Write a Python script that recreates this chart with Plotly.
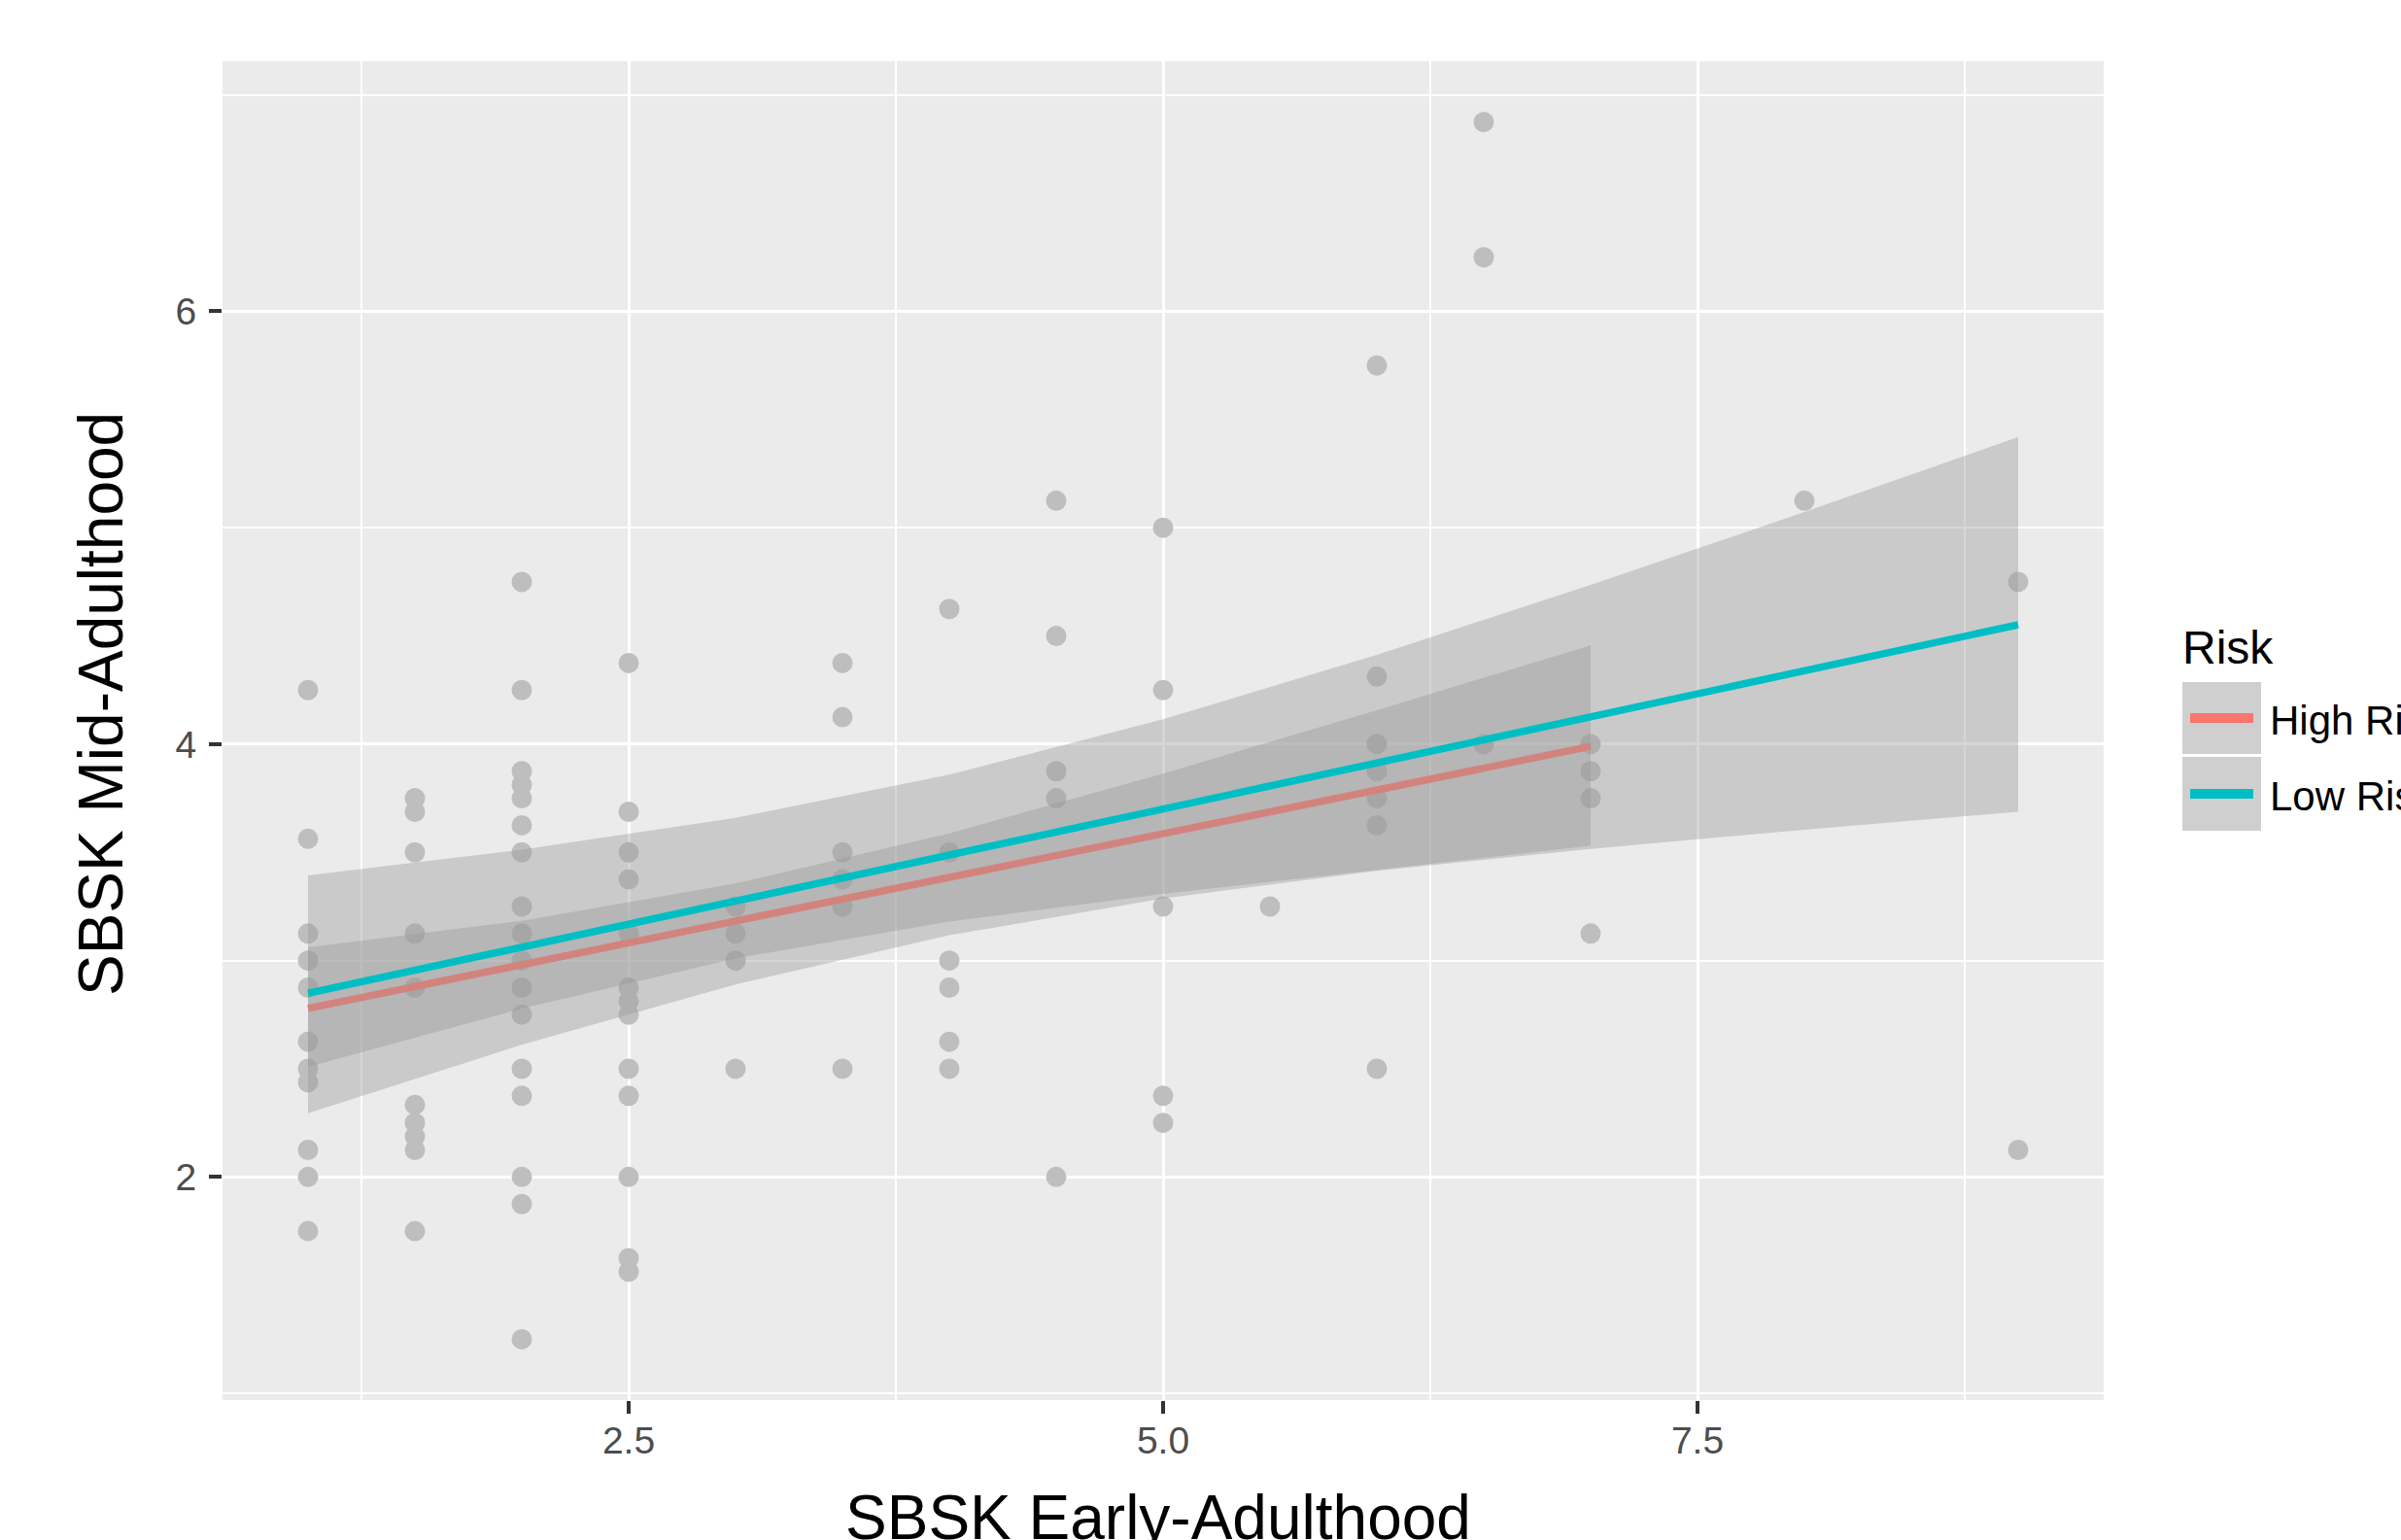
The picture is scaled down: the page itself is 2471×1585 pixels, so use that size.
import plotly.graph_objects as go

# ---------------- data ----------------
sbsk_early = (
    [1.0] * 11 + [1.5] * 10 + [2.0] * 17 + [2.5] * 13 + [3.0] * 4 + [3.5] * 6 +
    [4.0] * 6 + [4.5] * 5 + [5.0] * 5 + [5.5] * 1 + [6.0] * 7 + [6.5] * 3 +
    [7.0] * 4 + [8.0] * 1 + [9.0] * 2
)
sbsk_mid = (
    [4.25, 3.5625, 3.125, 3.0, 2.875, 2.625, 2.5, 2.4375, 2.125, 2.0, 1.75]
    + [3.75, 3.6875, 3.5, 3.125, 2.875, 2.333, 2.25, 2.1875, 2.125, 1.75]
    + [4.75, 4.25, 3.875, 3.8125, 3.75, 3.625, 3.5, 3.25, 3.125, 3.0, 2.875, 2.75, 2.5, 2.375, 2.0, 1.875, 1.25]
    + [4.375, 3.6875, 3.5, 3.375, 3.125, 2.875, 2.8125, 2.75, 2.5, 2.375, 2.0, 1.625, 1.5625]
    + [3.25, 3.125, 3.0, 2.5]
    + [4.375, 4.125, 3.5, 3.375, 3.25, 2.5]
    + [4.625, 3.5, 3.0, 2.875, 2.625, 2.5]
    + [5.125, 4.5, 3.875, 3.75, 2.0]
    + [5.0, 4.25, 3.25, 2.375, 2.25]
    + [3.25]
    + [5.75, 4.3125, 4.0, 3.875, 3.75, 3.625, 2.5]
    + [6.875, 6.25, 4.0]
    + [4.0, 3.875, 3.75, 3.125]
    + [5.125]
    + [4.75, 2.125]
)

# regression lines and confidence bands
high_x = [1, 2, 3, 4, 5, 6, 7]
high_fit = [2.779, 2.981, 3.183, 3.384, 3.586, 3.788, 3.990]
high_upper = [3.061, 3.184, 3.356, 3.588, 3.864, 4.157, 4.457]
high_lower = [2.509, 2.778, 3.010, 3.180, 3.308, 3.419, 3.530]

low_x = [1, 2, 3, 4, 5, 6, 7, 8, 9]
low_fit = [2.849, 3.062, 3.275, 3.488, 3.701, 3.914, 4.126, 4.339, 4.552]
low_upper = [3.393, 3.513, 3.660, 3.859, 4.115, 4.413, 4.736, 5.073, 5.419]
low_lower = [2.295, 2.611, 2.890, 3.117, 3.287, 3.415, 3.516, 3.605, 3.688]

group_names = ["High Risk", "Low Risk"]
group_colors = ["#F8766D", "#00BFC4"]
x_ticks = [2.5, 5.0, 7.5]
x_tick_text = ["2.5", "5.0", "7.5"]
y_ticks = [2, 4, 6]
y_tick_text = ["2", "4", "6"]

FONT = "Liberation Sans, Arial, Helvetica, sans-serif"
RIBBON = "rgba(153,153,153,0.4)"

fig = go.Figure()

# points
fig.add_trace(go.Scatter(
    x=sbsk_early, y=sbsk_mid, mode="markers",
    marker=dict(color="#BEBEBE", size=21, line=dict(width=0)),
    showlegend=False, hoverinfo="x+y"))

def ribbon(xs, up, lo):
    return list(xs) + list(xs)[::-1], list(up) + list(lo)[::-1]

# High risk ribbon + line
rx, ry = ribbon(high_x, high_upper, high_lower)
fig.add_trace(go.Scatter(x=rx, y=ry, fill="toself", fillcolor=RIBBON,
                         line=dict(width=0), mode="lines", showlegend=False,
                         hoverinfo="skip"))
fig.add_trace(go.Scatter(x=high_x, y=high_fit, mode="lines",
                         line=dict(color=group_colors[0], width=7.5),
                         name=group_names[0], showlegend=False))
# Low risk ribbon + line
rx, ry = ribbon(low_x, low_upper, low_lower)
fig.add_trace(go.Scatter(x=rx, y=ry, fill="toself", fillcolor=RIBBON,
                         line=dict(width=0), mode="lines", showlegend=False,
                         hoverinfo="skip"))
fig.add_trace(go.Scatter(x=low_x, y=low_fit, mode="lines",
                         line=dict(color=group_colors[1], width=7.5),
                         name=group_names[1], showlegend=False))

W, H = 2471, 1585
L, R, T, B = 229, 2165, 63, 1441
pw, ph = R - L, B - T

def px(xp):
    return (xp - L) / pw

def py(yp):
    return (B - yp) / ph

axis_common = dict(
    showgrid=True, gridcolor="white", gridwidth=3,
    zeroline=False, showline=False,
    ticks="outside", ticklen=13, tickwidth=3.5, tickcolor="#333333",
    tickfont=dict(family=FONT, size=39, color="#4D4D4D"),
)

fig.update_xaxes(range=[0.6, 9.4], tickmode="array", tickvals=x_ticks,
                 ticktext=x_tick_text, ticklabelstandoff=-6,
                 minor=dict(tickvals=[1.25, 3.75, 6.25, 8.75], showgrid=True,
                            gridcolor="white", gridwidth=1.5, ticks=""),
                 **axis_common)
fig.update_yaxes(range=[0.969, 7.156], tickmode="array", tickvals=y_ticks,
                 ticktext=y_tick_text, ticklabelstandoff=5,
                 minor=dict(tickvals=[1, 3, 5, 7], showgrid=True,
                            gridcolor="white", gridwidth=1.5, ticks=""),
                 **axis_common)

annotations = [
    dict(text="SBSK Early-Adulthood", x=px(1192), y=py(1562), xref="paper",
         yref="paper", xanchor="center", yanchor="middle", showarrow=False,
         font=dict(family=FONT, size=64, color="black")),
    dict(text="SBSK Mid-Adulthood", x=px(104), y=py(725), xref="paper",
         yref="paper", xanchor="center", yanchor="middle", showarrow=False,
         textangle=-90, font=dict(family=FONT, size=64, color="black")),
    dict(text="Risk", x=px(2244), y=py(666), xref="paper", yref="paper",
         xanchor="left", yanchor="middle", showarrow=False,
         font=dict(family=FONT, size=48, color="black")),
]
shapes = []
key_tops = [702, 779]
key_bottoms = [776, 855]
for i, name in enumerate(group_names):
    top, bot = key_tops[i], key_bottoms[i]
    mid = (top + bot) / 2
    shapes.append(dict(type="rect", xref="paper", yref="paper",
                       x0=px(2246), x1=px(2327), y0=py(bot), y1=py(top),
                       fillcolor="#CFCFCF", line=dict(width=0), layer="above"))
    shapes.append(dict(type="line", xref="paper", yref="paper",
                       x0=px(2254), x1=px(2319), y0=py(mid), y1=py(mid),
                       line=dict(color=group_colors[i], width=10), layer="above"))
    annotations.append(dict(text=name, x=px(2334), y=py(mid + 2), xref="paper",
                            yref="paper", xanchor="left", yanchor="middle",
                            showarrow=False,
                            font=dict(family=FONT, size=42, color="black")))

fig.update_layout(
    width=W, height=H,
    margin=dict(l=L, r=W - R, t=T, b=H - B, autoexpand=False),
    paper_bgcolor="white", plot_bgcolor="#EBEBEB",
    showlegend=False,
    annotations=annotations, shapes=shapes,
    font=dict(family=FONT),
)

fig.write_html("out.html", config={"displayModeBar": False},
               post_script="document.body.style.margin='0';")
